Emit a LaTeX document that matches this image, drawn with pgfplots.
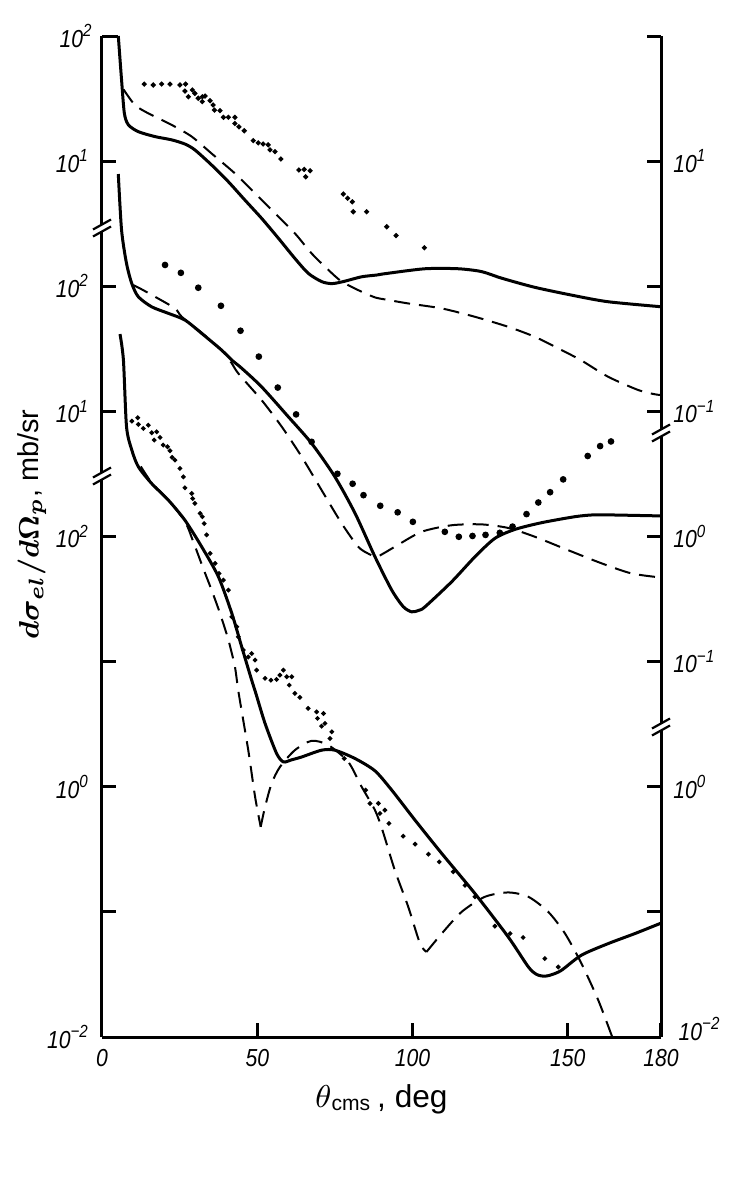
\documentclass[border=0pt]{standalone}
\usepackage{fontspec}
\setmainfont{Liberation Sans}
\newfontfamily\tickfont[FakeStretch=0.86]{Liberation Sans}
\usepackage{pgfplots}
\pgfplotsset{compat=1.18}
\usetikzlibrary{calc}
\newcommand{\tp}[1]{10\textsuperscript{#1}}
\begin{document}
\begin{tikzpicture}
% ---------- bottom panel + frame (left scale) ----------
\begin{axis}[at={(0,0)},anchor=south west,scale only axis,width=55.9mm,height=100.1mm,
  xmin=0,xmax=180,ymode=log,ymin=1e-2,ymax=1e6,clip=false,yminorticks=false,
  name=frame,
  tick align=inside,major tick length=1.4mm,
  tick style={line width=0.3mm,black},axis line style={line width=0.3mm},
  tick label style={font=\fontsize{7}{8}\tickfont\itshape},
  axis x line*=bottom,axis y line*=left,
  xtick={0,50,100,150,180},xticklabels={0,50,100,150,180},
  ytick={1e-2,1e-1,1,10,100,1000,10000,100000},
  yticklabels={\tp{−2},,\tp{0},,\tp{2},\tp{1},\tp{2},\tp{1}}]
\addplot[black,line width=0.3mm,smooth,tension=0.45,no marks] coordinates {(5.8,4150)(6.9,2570)(7.9,753)(9.6,491)(11.7,361)(16.0,265)(21.4,195)(26.7,135)(32.1,82.8)(37.5,47.6)(41.8,24.3)(45.0,13.1)(48.2,7.11)(49.5,5.62)(52.5,3.21)(56.2,1.85)(58.4,1.58)(61,1.64)(64.3,1.73)(70.7,1.96)(75.0,1.96)(81.5,1.68)(87.9,1.34)(93.3,0.940)(100.8,0.541)(109.4,0.293)(120.1,0.140)(130.8,0.0631)(137.3,0.0363)(140,0.0316)(142.6,0.0306)(145,0.0316)(148,0.0342)(154.4,0.0451)(163,0.0558)(171.6,0.0671)(180,0.0813)};
\addplot[black,line width=0.2mm,dash pattern=on 1.6mm off 0.9mm,smooth,tension=0.45,no marks] coordinates {(12.5,363)(16.0,269)(21.4,195)(26.7,132)(29.4,90.8)(32.6,55.6)(35.3,37.3)(38.0,24.3)(40.7,14.9)(42.8,9.10)(44.0,5.62)(47.1,1.96)(49.3,0.830)(51.1,0.478)};
\addplot[black,line width=0.2mm,dash pattern=on 1.6mm off 0.9mm,smooth,tension=0.45,no marks] coordinates {(51.1,0.478)(52.5,0.690)(54.6,1.06)(57.3,1.44)(62.1,1.96)(67.5,2.33)(72.9,2.15)(79.3,1.58)(83.6,1.00)(87.9,0.650)(90.3,0.450)(94.3,0.215)(98.6,0.110)(102.4,0.0558)(104.5,0.0479)};
\addplot[black,line width=0.2mm,dash pattern=on 1.6mm off 0.9mm,smooth,tension=0.45,no marks] coordinates {(104.5,0.0479)(109.4,0.0671)(115.8,0.100)(123.3,0.132)(130.8,0.143)(137.3,0.132)(143.7,0.100)(149.1,0.0671)(154.4,0.0386)(159.8,0.0197)(164.3,0.0100)};
\addplot[only marks,mark=*,mark size=0.16mm,black] coordinates {(9.6,836)(11.5,889)(11.7,787)(13.3,731)(14.9,776)(16.0,675)(17.6,687)(16.8,590)(18.7,619)(19.7,538)(21.1,521)(21.9,484)(22.6,429)(23.5,408)(25.1,350)(26.2,300)(26.7,245)(28.9,221)(29.2,201)(29.9,184)(31.6,153)(32.3,144)(32.9,127)(33.7,103)(34.8,73.3)(36.4,61.0)(37.7,50.7)(39.1,44.8)(40.7,37.3)(41.8,22.8)(43.4,19.0)(43.9,15.8)(45.5,12.4)(47.1,10.9)(48.2,11.6)(49.3,10.3)(49.8,8.55)(52.5,7.35)(54.4,7.11)(56.2,7.21)(57.3,7.80)(58.4,8.55)(59.5,7.57)(61.1,7.57)(60.3,6.49)(62.1,5.57)(63.7,5.18)(66.4,4.23)(69.1,3.97)(71.3,3.85)(69.4,3.52)(71.8,3.21)(70.7,3.05)(74.0,2.75)(73.4,2.43)(78.0,1.68)(84.9,0.940)(86.3,0.736)(89.5,0.612)(89.0,0.736)(91.1,0.650)(92.4,0.509)(97.0,0.403)(100.8,0.348)(105.1,0.289)(108.6,0.251)(113.1,0.209)(116.9,0.163)(120.1,0.132)(126.5,0.0769)(131.4,0.0671)(135.6,0.0624)(142.6,0.0424)(146.9,0.0363)};
\end{axis}
% ---------- right-hand scale ----------
\begin{axis}[at={(0,0)},anchor=south west,scale only axis,width=55.9mm,height=100.1mm,
  xmin=0,xmax=180,ymode=log,ymin=1e-2,ymax=1e6,clip=false,yminorticks=false,
  tick align=inside,major tick length=1.4mm,
  tick style={line width=0.3mm,black},axis line style={line width=0.3mm},
  tick label style={font=\fontsize{7}{8}\tickfont\itshape},
  axis y line*=right,axis x line=none,xtick=\empty,
  ytick={1e-2,1e-1,1,10,100,1000,10000,100000,1000000},
  yticklabels={,,\tp{0},\tp{−1},\tp{0},\tp{−1},,\tp{1},}]
\end{axis}
% ---------- middle panel ----------
\begin{axis}[at={(0,0)},anchor=south west,scale only axis,width=55.9mm,height=100.1mm,
  xmin=0,xmax=180,ymode=log,ymin=1e-4,ymax=1e4,clip=false,hide axis]
\addplot[black,line width=0.3mm,smooth,tension=0.45,no marks] coordinates {(5.25,789)(6.3,281)(7.9,152)(9.6,105)(11.7,82.4)(16.0,68.5)(21.4,60.7)(26.7,53.7)(32.1,42.0)(38.5,30.9)(41.8,25.7)(45.0,22.1)(51.4,15.7)(60,9.06)(67.5,5.55)(75,3.00)(81.5,1.53)(87.9,0.689)(93.3,0.373)(97,0.275)(99.7,0.250)(102,0.257)(104,0.274)(112.6,0.435)(120.1,0.689)(126.5,0.966)(133,1.14)(141.6,1.29)(152.3,1.44)(158.7,1.49)(168.4,1.48)(180,1.46)};
\addplot[black,line width=0.2mm,dash pattern=on 1.6mm off 0.9mm,smooth,tension=0.45,no marks] coordinates {(10.1,102)(12.2,96.2)(17.1,82.4)(23.5,66.5)(25.7,57.0)(32,42.7)(38.5,30.9)(41.8,24.2)(43.9,20.1)(51.4,12.3)(57.9,7.53)(64.3,4.34)(70.7,2.35)(77.2,1.27)(82.5,0.828)(86,0.724)(88.4,0.689)(91,0.741)(94.3,0.828)(102.9,1.09)(112.6,1.23)(122.2,1.25)(130.8,1.17)(139.4,0.995)(150.1,0.778)(160.9,0.610)(170.5,0.507)(180,0.470)};
\addplot[only marks,mark=*,mark size=0.26mm,black] coordinates {(20.3,148)(25.4,128)(31.0,97.3)(38.3,69.8)(44.6,44.1)(50.5,27.4)(56.6,15.5)(62.5,9.46)(67.5,5.71)(75.8,3.17)(80.7,2.64)(84.2,2.14)(89.6,1.76)(95.2,1.56)(100.1,1.31)(110.4,1.09)(114.9,0.995)(119.3,1.01)(123.5,1.03)(128.1,1.07)(132.2,1.20)(136.7,1.51)(140.5,1.87)(144.3,2.26)(148.5,2.86)(156.4,4.40)(160.4,5.28)(163.9,5.75)};
\end{axis}
% ---------- top panel ----------
\begin{axis}[at={(0,0)},anchor=south west,scale only axis,width=55.9mm,height=100.1mm,
  xmin=0,xmax=180,ymode=log,ymin=1e-6,ymax=1e2,clip=false,hide axis]
\addplot[black,line width=0.3mm,sharp plot,no marks] coordinates {(0,100)(5.25,100)};
\addplot[black,line width=0.3mm,smooth,tension=0.45,no marks] coordinates {(5.25,100)(6.3,44.5)(7.2,24.1)(8.5,19.5)(11.7,17.2)(17.1,15.7)(22.4,14.8)(26.7,13.7)(29.9,12.3)(35.3,9.31)(40.7,6.84)(46.0,4.89)(51.4,3.49)(56.8,2.42)(62.1,1.67)(66.4,1.27)(70.7,1.09)(74.0,1.05)(77.7,1.09)(83.6,1.19)(88.5,1.23)(91.1,1.26)(104,1.38)(114.7,1.38)(122.2,1.31)(128.7,1.16)(139.4,0.98)(152.3,0.839)(163,0.752)(180,0.686)};
\addplot[black,line width=0.2mm,dash pattern=on 1.6mm off 0.9mm,smooth,tension=0.45,no marks] coordinates {(6.9,37.5)(10.6,28.1)(14.9,24.1)(22.4,19.5)(28.9,15.7)(35.3,11.5)(42.8,7.98)(49.3,5.53)(55.7,3.83)(62.1,2.65)(67.5,1.83)(72.9,1.35)(77.2,1.09)(83.6,0.904)(88,0.813)(91.1,0.785)(98.6,0.729)(109.4,0.665)(120.1,0.570)(130.8,0.474)(139.4,0.394)(148,0.309)(154.4,0.255)(163,0.189)(172.7,0.148)(178,0.137)(180,0.135)};
\addplot[only marks,mark=*,mark size=0.18mm,black] coordinates {(13.6,41.3)(16.5,40.6)(19.2,41.3)(21.9,41.3)(25.1,40.6)(26.9,41.3)(26.7,36.3)(27.8,32.7)(29.1,37.0)(29.9,34.8)(31.0,31.8)(32.3,32.7)(32.3,29.9)(33.2,33.1)(34.8,30.4)(35.8,28.1)(36.2,25.6)(38.0,25.3)(39.1,22.4)(40.7,22.4)(42.8,22.4)(42.8,20.0)(44.1,18.8)(45.8,17.5)(48.7,14.6)(50.3,14.0)(51.9,13.7)(53.5,13.5)(54.1,12.3)(55.7,11.9)(57.6,10.4)(63.4,8.49)(65.1,8.59)(67.0,8.38)(65.6,7.50)(77.7,5.46)(79.1,5.05)(80.6,4.73)(80.9,3.94)(85.2,3.94)(91.7,2.99)(94.7,2.54)(103.8,2.03)};
\end{axis}
% ---------- extra tick labels, axis breaks (frame coordinates in mm) ----------
\node[anchor=east,font=\fontsize{7}{8}\tickfont\itshape,inner sep=0.5mm] at ($(frame.north west)+(-0.3mm,0)$) {\tp{2}};
\node[anchor=west,font=\fontsize{7}{8}\tickfont\itshape,inner sep=0.5mm] at ($(frame.south east)+(1.2mm,0.8mm)$) {\tp{−2}};
\foreach \yy/\xx in {80.9/0,56.1/0,60.4/55.9,31.0/55.9}{
  \draw[white,line width=0.6mm] ($(frame.south west)+(\xx mm,\yy mm)+(0,-0.35mm)$) -- ++(0,0.7mm);
  \draw[line width=0.22mm] ($(frame.south west)+(\xx mm,\yy mm)+(-0.9mm,-0.85mm)$) -- ++(1.8mm,1.0mm);
  \draw[line width=0.22mm] ($(frame.south west)+(\xx mm,\yy mm)+(-0.9mm,-0.15mm)$) -- ++(1.8mm,1.0mm);
}
% ---------- axis titles ----------
\node[rotate=90,font=\fontsize{8.2}{10}\selectfont] at ($(frame.west)+(-7.0mm,1.2mm)$)
  {{\boldmath$d\sigma_{el}/d\Omega_{p}$}, mb/sr};
\node[font=\fontsize{9}{11}\selectfont] at ($(frame.south)+(0,-6.2mm)$)
  {$\theta$\textsubscript{cms}\,, deg};
\pgfresetboundingbox
\path[use as bounding box] ($(frame.south west)+(-10.2mm,-14.3mm)$) rectangle ($(frame.north east)+(8.1mm,3.6mm)$);
\end{tikzpicture}
\end{document}
